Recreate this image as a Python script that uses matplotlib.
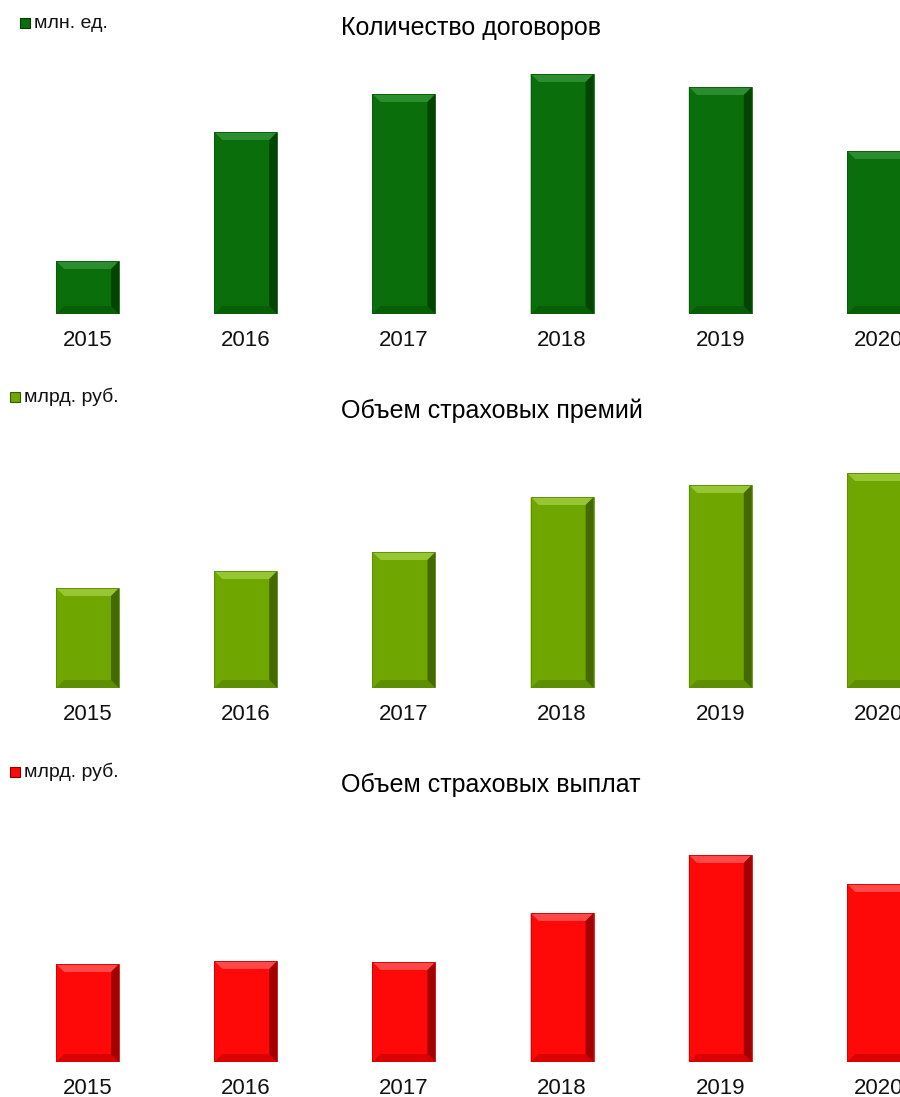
import matplotlib.pyplot as plt
from matplotlib.patches import Polygon, Rectangle

years = ['2015', '2016', '2017', '2018', '2019', '2020']
contracts = [5.3, 18.2, 22.0, 24.0, 22.7, 16.3]        # млн. ед.
premiums = [10.0, 11.7, 13.6, 19.1, 20.3, 21.5]        # млрд. руб.
payouts = [9.8, 10.1, 10.0, 14.9, 20.7, 17.8]          # млрд. руб.

W, H = 900, 1097
plt.rcParams['font.family'] = ['Liberation Sans', 'DejaVu Sans']

fig = plt.figure(figsize=(W / 100, H / 100), dpi=100)

panels = [
    # values, unit, title, face, light, mid-dark, dark, baseline px, top px
    (contracts, 'млн. ед.', 'Количество договоров', '#0a6e0a', '#35953a', '#075a07', '#023a02', 314, 60),
    (premiums, 'млрд. руб.', 'Объем страховых премий', '#70a600', '#a0d040', '#5a8a00', '#3a5a00', 688, 430),
    (payouts, 'млрд. руб.', 'Объем страховых выплат', '#ff0808', '#ff5a5a', '#d00000', '#8a0000', 1062, 810),
]
legend_pos = [(24, 23), (14, 397), (14, 772)]
title_y = [28, 411, 785]

centers_px0, step_px, bar_px = 87.5, 158.2, 63
bevel_px = 8

for k, (vals, unit, title, face, light, mid, dark, base, top) in enumerate(panels):
    ax = fig.add_axes([0, (H - base) / H, 1, (base - top) / H])
    ax.axis('off')
    ax.set_xlim(-centers_px0 / step_px, (W - centers_px0) / step_px)
    ax.set_ylim(0, (base - top) / 10.0)   # 1 unit = 10 px
    bw = bar_px / step_px
    dx = bevel_px / step_px
    dy = bevel_px / 10.0
    bars = ax.bar(range(len(years)), vals, width=bw, color=face, edgecolor='none')
    for b in bars:
        bx0, by0 = b.get_x(), b.get_y()
        bx1, by1 = bx0 + b.get_width(), by0 + b.get_height()
        polys = [
            ([(bx0, by1), (bx1, by1), (bx1 - dx, by1 - dy), (bx0 + dx, by1 - dy)], light),
            ([(bx0, by0), (bx1, by0), (bx1 - dx, by0 + dy), (bx0 + dx, by0 + dy)], mid),
            ([(bx0, by0), (bx0, by1), (bx0 + dx, by1 - dy), (bx0 + dx, by0 + dy)], face),
            ([(bx1, by0), (bx1, by1), (bx1 - dx, by1 - dy), (bx1 - dx, by0 + dy)], dark),
        ]
        for pts, c in polys:
            ax.add_patch(Polygon(pts, closed=True, facecolor=c, edgecolor='none', alpha=0.8))
        ax.add_patch(Rectangle((bx0, by0), bx1 - bx0, by1 - by0, fill=False,
                               edgecolor=mid, linewidth=0.6))
    for i, y in enumerate(years):
        fig.text((centers_px0 + step_px * i) / W, 1 - (base + 27) / H, y,
                 ha='center', va='center', fontsize=16, color='#111111')
    lx, ly = legend_pos[k]
    fig.patches.append(Rectangle(((lx - 4) / W, 1 - (ly + 5) / H), 10 / W, 10 / H,
                                 transform=fig.transFigure, facecolor=face,
                                 edgecolor=dark, linewidth=0.8))
    fig.text((lx + 10) / W, 1 - ly / H, unit, ha='left', va='center', fontsize=14,
             color='#111111')
    fig.text(341 / W, 1 - title_y[k] / H, title, ha='left', va='center',
             fontsize=18, color='black')

fig.savefig('out.png', dpi=100)
